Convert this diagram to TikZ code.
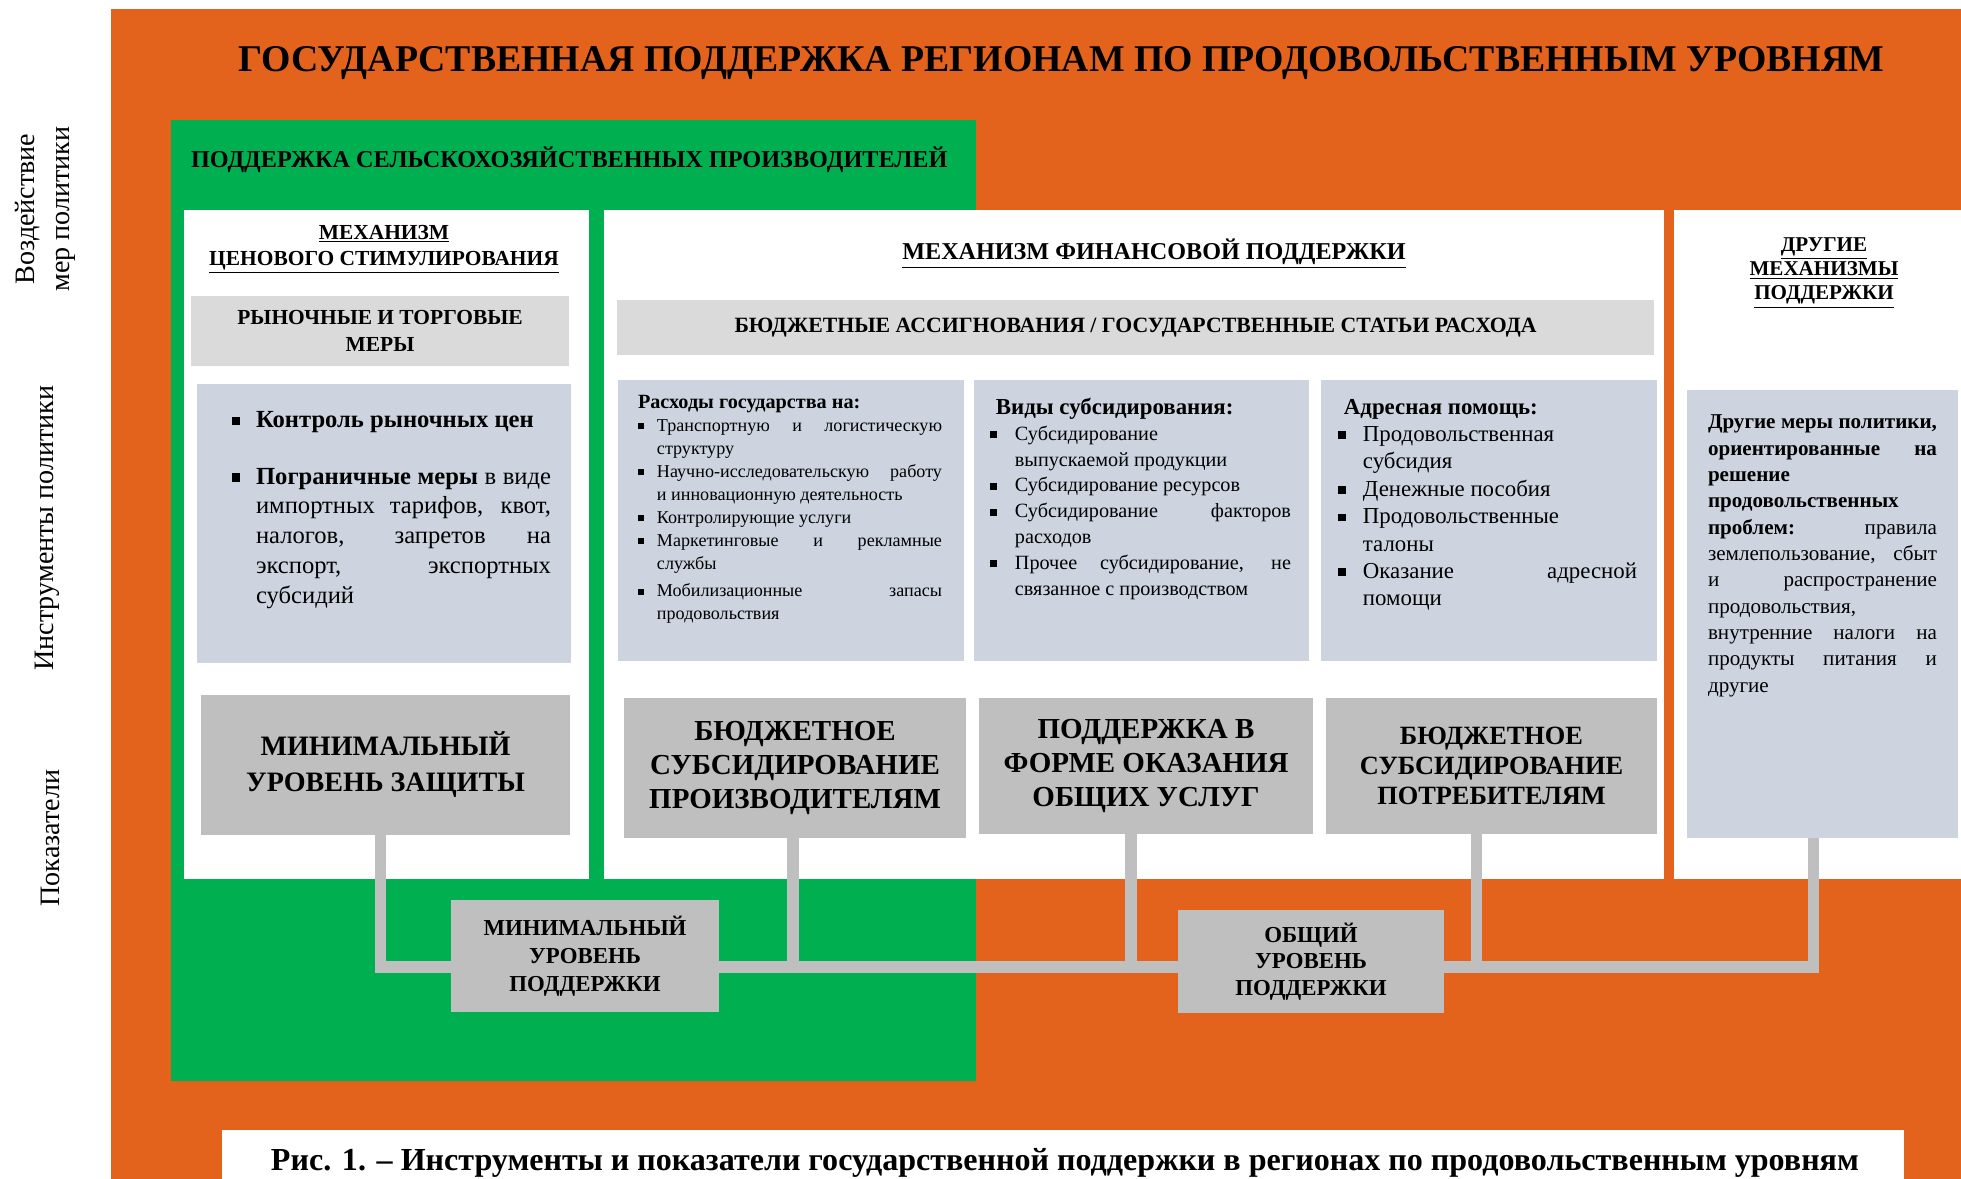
\documentclass[tikz,border=0pt]{standalone}
\usepackage{fontspec}
\setmainfont{Liberation Serif}
\usetikzlibrary{positioning}

\definecolor{orng}{HTML}{E3631D}
\definecolor{grn}{HTML}{00B050}
\definecolor{gry}{HTML}{BFBFBF}
\definecolor{lgry}{HTML}{DADADA}
\definecolor{blu}{HTML}{CDD4DF}

\pgfdeclarelayer{bg}
\pgfdeclarelayer{wires}
\pgfsetlayers{bg,wires,main}

\def\px{0.02cm}
\newcommand\fs[2]{\fontsize{#1}{#2}\selectfont}
\newcommand\sqb{\rule[0.22ex]{0.34em}{0.34em}}
\newcommand\itm[2][13.7pt]{\par\noindent\hangindent=#1\hangafter=1\makebox[#1][l]{\sqb}#2}

\begin{document}
\begin{tikzpicture}[
			x = 0.02cm, y = -0.02cm,
			every node/.style = {inner sep = 0pt, outer sep = 0pt},
			sz/.style 2 args = {minimum width = #1*\px, minimum height = #2*\px},
			lvl/.style = {fill = gry, align = center},
			txt/.style = {anchor = north west, align = justify},
			wire/.style = {gry, line width = 6.5pt}
			]

			\useasboundingbox (0,0) rectangle (1961,1179);

			% panels
			\begin{pgfonlayer}{bg}
				\fill[orng] (111,9) rectangle (1961,1179);
				\fill[grn] (171,120) rectangle (976,1081);
				\fill[white] (184,210) rectangle (589,879);
				\fill[white] (604,210) rectangle (1664,879);
				\fill[white] (1674,210) rectangle (1961,879);
				\fill[white] (222,1130) rectangle (1904,1179);
			\end{pgfonlayer}

			\node[font = \fs{21.5}{25}\bfseries] (title) at (1061,63) {ГОСУДАРСТВЕННАЯ ПОДДЕРЖКА РЕГИОНАМ ПО ПРОДОВОЛЬСТВЕННЫМ УРОВНЯМ};
			\node[anchor = west, font = \fs{13.8}{16}\bfseries] (agri) at (191,160) {ПОДДЕРЖКА СЕЛЬСКОХОЗЯЙСТВЕННЫХ ПРОИЗВОДИТЕЛЕЙ};

			% side labels
			\node[rotate = 90, align = center, font = \fs{16}{20}] (impact) at (45,209) {Воздействие\\мер политики};
			\node[rotate = 90, font = \fs{16}{20}] (tools) at (47,528) {Инструменты политики};
			\node[rotate = 90, font = \fs{16}{20}] (indic) at (50,838) {Показатели};

			% price mechanism
			\node[align = center, font = \fs{12.2}{14.8}\bfseries] (pricehd) at (384,249) {\underline{МЕХАНИЗМ}\\\underline{ЦЕНОВОГО СТИМУЛИРОВАНИЯ}};
			\node[fill = lgry, sz = {378}{70}, align = center, font = \fs{12.2}{15.4}\bfseries] (market) at (380,331) {РЫНОЧНЫЕ И ТОРГОВЫЕ\\МЕРЫ};
			\node[fill = blu, sz = {374}{279}] (pricebox) at (384,523.5) {};
			\node[txt, text width = 319*\px, font = \fs{14}{17}] (pricetxt) at (232,398) {
				\itm{\textbf{Контроль рыночных цен}}\par\vspace{15pt}
				\itm{\textbf{Пограничные меры} в виде\linebreak импортных тарифов, квот,\linebreak налогов, запретов на\linebreak экспорт, экспортных\linebreak субсидий}\par
				};
			\node[lvl, sz = {369}{140}, font = \fs{16}{20.5}\bfseries] (minprot) at (385.5,765) {МИНИМАЛЬНЫЙ\\УРОВЕНЬ ЗАЩИТЫ};

			% financial mechanism
			\node[font = \fs{13.75}{15}\bfseries] (finhd) at (1154,254) {\underline{МЕХАНИЗМ ФИНАНСОВОЙ ПОДДЕРЖКИ}};
			\node[fill = lgry, sz = {1037}{55}, font = \fs{12.4}{15}\bfseries] (budget) at (1135.5,327.5) {БЮДЖЕТНЫЕ АССИГНОВАНИЯ / ГОСУДАРСТВЕННЫЕ СТАТЬИ РАСХОДА};

			\node[fill = blu, sz = {346}{281}] (spendbox) at (791,520.5) {};
			\node[fill = blu, sz = {335}{281}] (subsbox) at (1141.5,520.5) {};
			\node[fill = blu, sz = {336}{281}] (aidbox) at (1489,520.5) {};

			\node[txt, text width = 304*\px, font = \fs{10.3}{13.1}] (spendtxt) at (638,395) {
				{\fs{11.5}{14}\bfseries Расходы государства на:}
				\itm[10.8pt]{Транспортную и логистическую\linebreak структуру}
				\itm[10.8pt]{\mbox{Научно-исследовательскую} работу\linebreak и инновационную деятельность}
				\itm[10.8pt]{Контролирующие услуги}
				\itm[10.8pt]{Маркетинговые и рекламные\linebreak службы}\par\vspace{2.5pt}
				\itm[10.8pt]{Мобилизационные запасы\linebreak продовольствия}\par
				};
			\node[txt, text width = 301*\px, font = \fs{11.5}{14.7}] (substxt) at (990,398) {
				\hspace*{3.4pt}{\fs{13}{15}\bfseries Виды субсидирования:}
				\itm[14.2pt]{Субсидирование\newline выпускаемой продукции}
				\itm[14.2pt]{Субсидирование ресурсов}
				\itm[14.2pt]{Субсидирование факторов\linebreak расходов}
				\itm[14.2pt]{Прочее субсидирование, не\linebreak связанное с производством}\par
				};
			\node[txt, text width = 299*\px, font = \fs{13}{15.6}] (aidtxt) at (1338,399) {
				\hspace*{3.4pt}{\fs{13}{15}\bfseries Адресная помощь:}
				\itm[14.2pt]{Продовольственная\newline субсидия}
				\itm[14.2pt]{Денежные пособия}
				\itm[14.2pt]{Продовольственные\newline талоны}
				\itm[14.2pt]{Оказание адресной\linebreak помощи}\par
				};

			\node[lvl, sz = {342}{140}, font = \fs{16.5}{19.4}\bfseries] (prod) at (795,768) {БЮДЖЕТНОЕ\\СУБСИДИРОВАНИЕ\\ПРОИЗВОДИТЕЛЯМ};
			\node[lvl, sz = {334}{136}, font = \fs{16.5}{19.4}\bfseries] (serv) at (1146,766) {ПОДДЕРЖКА В\\ФОРМЕ ОКАЗАНИЯ\\ОБЩИХ УСЛУГ};
			\node[lvl, sz = {331}{136}, font = \fs{15}{17}\bfseries] (cons) at (1491.5,766) {БЮДЖЕТНОЕ\\СУБСИДИРОВАНИЕ\\ПОТРЕБИТЕЛЯМ};

			% other mechanisms
			\node[align = center, font = \fs{12}{13.7}\bfseries] (otherhd) at (1824,273) {\underline{ДРУГИЕ}\\\underline{МЕХАНИЗМЫ}\\\underline{ПОДДЕРЖКИ}};
			\node[fill = blu, sz = {271}{448}] (other) at (1822.5,614) {};
			\node[txt, text width = 229*\px, font = \fs{12}{15}] (othertxt) at (1708,415) {
				{\bfseries Другие меры политики,\linebreak ориентированные на\linebreak решение\newline продовольственных\newline проблем:} правила\linebreak землепользование, сбыт\linebreak и распространение\linebreak продовольствия,\newline внутренние налоги на\linebreak продукты питания и\linebreak другие
				};

			% support levels
			\node[lvl, sz = {268}{112}, font = \fs{13}{16}\bfseries] (minsup) at (585,956) {МИНИМАЛЬНЫЙ\\УРОВЕНЬ\\ПОДДЕРЖКИ};
			\node[lvl, sz = {266}{103}, font = \fs{13}{15}\bfseries] (gen) at (1311,961.5) {ОБЩИЙ\\УРОВЕНЬ\\ПОДДЕРЖКИ};

			\begin{pgfonlayer}{wires}
				\coordinate (bus) at (0,967);
				\coordinate (prottap) at ([xshift = -5*\px]minprot.south);
				\coordinate (prodtap) at ([xshift = -2*\px]prod.south);
				\coordinate (servtap) at ([xshift = -15*\px]serv.south);
				\coordinate (constap) at ([xshift = -15*\px]cons.south);
				\coordinate (othertap) at ([xshift = -9*\px]other.south);
				\draw[wire] (prottap) -- (prottap |- bus) -- (minsup.west |- bus);
				\draw[wire] (minsup.east |- bus) -- (gen.west |- bus);
				\draw[wire] (gen.east |- bus) -- (othertap |- bus) -- (othertap);
				\draw[wire] (prodtap) -- (prodtap |- bus);
				\draw[wire] (servtap) -- (servtap |- bus);
				\draw[wire] (constap) -- (constap |- bus);
			\end{pgfonlayer}

			\node[font = \fs{18.25}{20}\bfseries] (caption) at (1065,1163) {Рис. 1. -- Инструменты и показатели государственной поддержки в регионах по продовольственным уровням};

		\end{tikzpicture}
\end{document}
